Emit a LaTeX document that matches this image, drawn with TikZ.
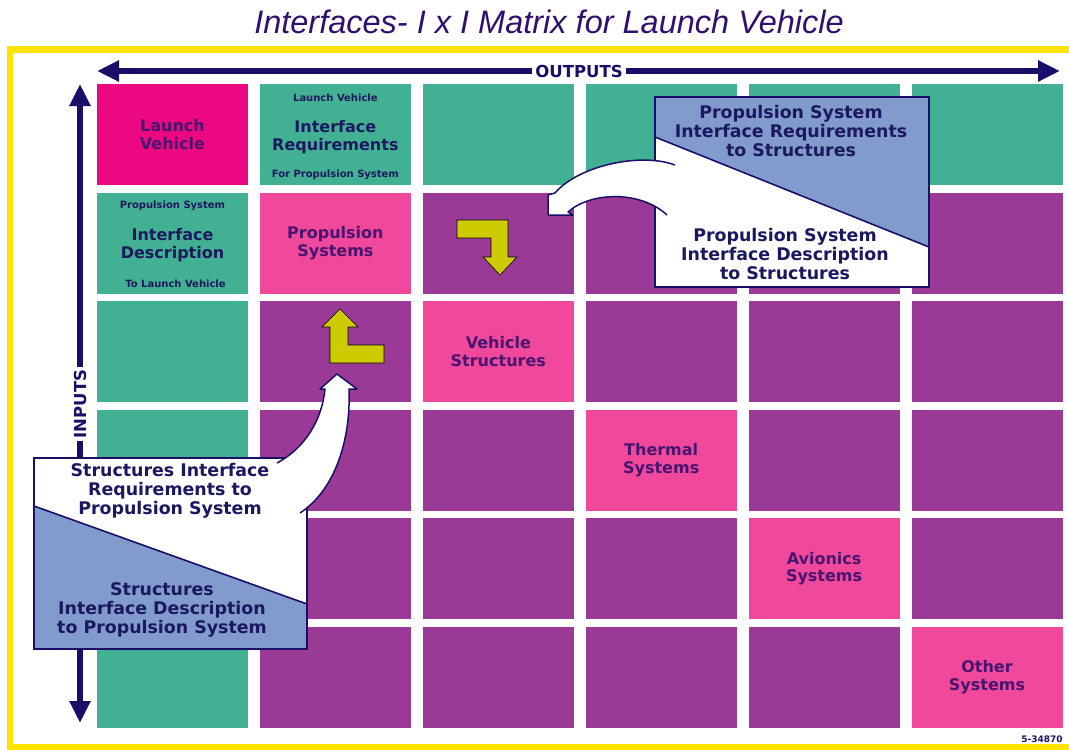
\documentclass[tikz,border=0pt]{standalone}
\usepackage{fontspec}
\setmainfont{DejaVu Sans}
\newfontfamily\titlefont{Liberation Sans}
\usetikzlibrary{arrows.meta,positioning}

\definecolor{cellteal}{RGB}{66,176,146}
\definecolor{cellpurple}{RGB}{154,58,150}
\definecolor{cellpink}{RGB}{240,72,155}
\definecolor{lvmagenta}{RGB}{236,8,128}
\definecolor{navyline}{RGB}{25,15,105}
\definecolor{calloutblue}{RGB}{130,155,205}
\definecolor{arrowyellow}{RGB}{204,204,0}
\definecolor{frameyellow}{RGB}{255,228,0}
\definecolor{titlepurple}{RGB}{48,16,110}
\definecolor{textpurple}{RGB}{72,20,112}
\definecolor{textnavy}{RGB}{28,24,96}

\begin{document}
\begin{tikzpicture}[x=1pt,y=-1pt,
  cell/.style={minimum width=151pt,minimum height=101pt,inner sep=0pt},
  systext/.style={font=\bfseries\fontsize{16}{17.5}\selectfont,align=center,inner sep=0pt,text=textpurple},
  ifctext/.style={font=\bfseries\fontsize{16}{17.5}\selectfont,align=center,inner sep=0pt,text=textnavy},
  smalltext/.style={font=\bfseries\fontsize{10}{11}\selectfont,inner sep=0pt,text=textnavy},
  callouttext/.style={font=\bfseries\fontsize{17.4}{19}\selectfont,align=center,inner sep=0pt,text=textnavy},
  ioarrow/.style={draw=navyline,line width=5.5pt,{Triangle[length=22pt,width=20pt]}-{Triangle[length=22pt,width=20pt]}},
  iolabel/.style={font=\bfseries\fontsize{16.5}{18}\selectfont,text=navyline,fill=white,inner xsep=3pt,inner ysep=1pt},
  lshape/.style={fill=arrowyellow,draw=black,line width=0.6pt},
  bendfill/.style={fill=white},
  bendline/.style={draw=navyline,line width=1.5pt,line join=round},
  callout/.style={draw=navyline,line width=1.6pt}]
\useasboundingbox (0,0) rectangle (1069,750);
\fill[white] (0,0) rectangle (1069,750);

% title and frame
\node[anchor=base,font=\titlefont\itshape\fontsize{32.5}{35}\selectfont,text=titlepurple] (title) at (549,33) {Interfaces- I x I Matrix for Launch Vehicle};
\draw[frameyellow,line width=6.5pt] (1069,49.5) -- (10,49.5) -- (10,747) -- (1069,747);

% the 6 x 6 matrix
\foreach \r in {1,...,6}{
  \foreach \c in {1,...,6}{
    \pgfmathsetmacro\cx{97+162.9*(\c-1)+75.5}
    \pgfmathsetmacro\cy{84+108.5*(\r-1)+50.5}
    \ifnum\r=\c \def\cellcol{cellpink}\else
      \ifnum\r=1 \def\cellcol{cellteal}\else
        \ifnum\c=1 \def\cellcol{cellteal}\else \def\cellcol{cellpurple}\fi
      \fi
    \fi
    \node[cell,fill=\cellcol] (c\r\c) at (\cx,\cy) {};
  }
}
\node[cell,fill=lvmagenta] (lv) at (c11) {};

% diagonal labels
\node[systext] (lvlabel) at (c11) {Launch\\Vehicle};
\node[systext] (proplabel) at (c22) {Propulsion\\Systems};
\node[systext] (structlabel) at (c33) {Vehicle\\Structures};
\node[systext] (thermlabel) at (c44) {Thermal\\Systems};
\node[systext] (avlabel) at (c55) {Avionics\\Systems};
\node[systext] (otherlabel) at (c66) {Other\\Systems};

% interface cells
\node[smalltext] (reqtop) at ([yshift=36.5pt]c12.center) {Launch Vehicle};
\node[ifctext] (reqmid) at ([yshift=-2.5pt]c12.center) {Interface\\Requirements};
\node[smalltext] (reqbot) at ([yshift=-40.5pt]c12.center) {For Propulsion System};
\node[smalltext] (desctop) at ([yshift=37pt]c21.center) {Propulsion System};
\node[ifctext] (descmid) at ([yshift=-2pt]c21.center) {Interface\\Description};
\node[smalltext] (descbot) at ([xshift=3pt,yshift=-41pt]c21.center) {To Launch Vehicle};

% outputs / inputs axes
\coordinate (outl) at (97,71);
\coordinate (outr) at (1060,71);
\coordinate (intop) at (80,84);
\coordinate (inbot) at (80,723);
\draw[ioarrow] (outl) -- (outr);
\draw[ioarrow] (intop) -- (inbot);
\node[iolabel] (outlabel) at (579,71) {OUTPUTS};
\node[iolabel,rotate=90] (inlabel) at (80,404) {INPUTS};

% yellow turn arrows
\draw[lshape] (457,220) -- (508,220) -- (508,257) -- (517,257) -- (500,275) -- (483,257) -- (491,257) -- (491,238) -- (457,238) -- cycle;
\draw[lshape] (384,345) -- (384,363) -- (330,363) -- (330,327) -- (322,327) -- (340,309) -- (358,327) -- (348,327) -- (348,345) -- cycle;

% propulsion -> structures callout
\coordinate (pa) at (655,97);
\coordinate (pb) at (929,287);
\fill[white] (pa) rectangle (pb);
\fill[calloutblue] (655,97) -- (929,97) -- (929,247) -- (655,137) -- cycle;
\draw[callout] (655,137) -- (929,247);
\draw[callout] (pa) rectangle (pb);
\fill[bendfill] (675,165) .. controls (640,152) and (578,166) .. (555,193) -- (548,195) -- (548,215) -- (573,215) -- (568,212) .. controls (590,192) and (640,190) .. (667,215) -- cycle;
\draw[bendline] (675,165) .. controls (640,152) and (578,166) .. (555,193) -- (548,195) -- (548,215) -- (573,215) -- (568,212) .. controls (590,192) and (640,190) .. (667,215);
\node[callouttext] (preq) at (791,131) {Propulsion System\\Interface Requirements\\to Structures};
\node[callouttext] (pdesc) at (785,254) {Propulsion System\\Interface Description\\to Structures};

% structures -> propulsion callout
\coordinate (sa) at (34,458);
\coordinate (sb) at (307,649);
\fill[white] (sa) rectangle (sb);
\fill[calloutblue] (34,506) -- (307,604) -- (307,649) -- (34,649) -- cycle;
\draw[callout] (34,506) -- (307,604);
\draw[callout] (sa) rectangle (sb);
\fill[bendfill] (277,463) .. controls (305,448) and (322,420) .. (325,389) -- (320,389) -- (337,374) -- (357,389) -- (349,389) .. controls (351,440) and (335,490) .. (300,513) -- cycle;
\draw[bendline] (277,463) .. controls (305,448) and (322,420) .. (325,389) -- (320,389) -- (337,374) -- (357,389) -- (349,389) .. controls (351,440) and (335,490) .. (300,513);
\node[callouttext] (sreq) at (170,491) {Structures Interface\\Requirements to\\Propulsion System};
\node[callouttext] (sdesc) at (162,610) {Structures\\Interface Description\\to Propulsion System};

\node[font=\bfseries\fontsize{9}{10}\selectfont,text=textnavy] (docnum) at (1042,739) {5-34870};
\end{tikzpicture}
\end{document}
